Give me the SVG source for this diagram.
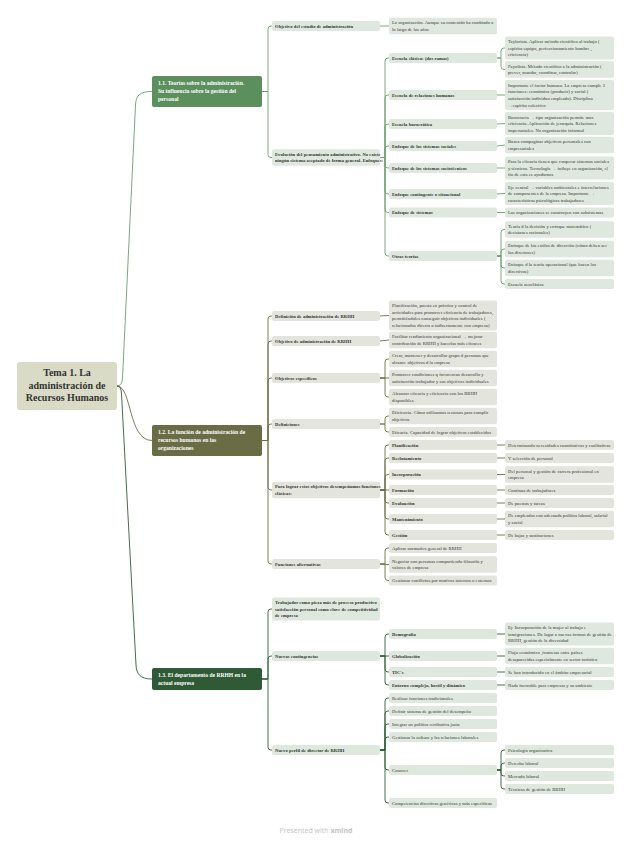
<svg xmlns="http://www.w3.org/2000/svg" width="632" height="848" viewBox="0 0 632 848">
<style>
.t{font-family:"Liberation Serif","DejaVu Serif",serif;font-size:4.6px;fill:#333;letter-spacing:0.06px}
.b{font-weight:bold}
.a rect{fill:#dfe8de}
.o rect{fill:#e3e4dc}
.c{fill:none;stroke-width:0.9}
.c1{stroke:#6b9e6d}.c2{stroke:#6e7048}.c3{stroke:#2f5e36}
.bt{font-family:"Liberation Serif","DejaVu Serif",serif;font-size:5.6px;font-weight:bold;fill:#fff}
</style>
<rect width="632" height="848" fill="#fff"/>
<g id="connectors">
<path class="c c1" d="M117,386 C120,386 122,384 122.5,378 L135.5,105 C136,95 140,91.5 152,91.5"/>
<path class="c c2" d="M117,386 C132,386 128,440.5 152,440.5"/>
<path class="c c3" d="M117,386 C120,386 121,388 121.5,394 L136,665 C136.5,674 140,679 152,679"/>
<g class="c c1">
<path d="M262,91.5 H268 V29 Q268,26 271,26 H272"/>
<path d="M262,91.5 H268 V154.5 Q268,157.5 271,157.5 H272"/>
<path d="M380,26 H389"/>
<path d="M380,157.5 H385 V61 Q385,58 388,58 H389"/>
<path d="M380,157.5 H385 V98 Q385,95 388,95 H389"/>
<path d="M380,157.5 H385 V127 Q385,124 388,124 H389"/>
<path d="M380,157.5 H385 V149 Q385,146 388,146 H389"/>
<path d="M380,157.5 H385 V165 Q385,168 388,168 H389"/>
<path d="M380,157.5 H385 V191 Q385,194 388,194 H389"/>
<path d="M380,157.5 H385 V209.5 Q385,212.5 388,212.5 H389"/>
<path d="M380,157.5 H385 V253 Q385,256 388,256 H389"/>
<path d="M497,58 H501 V51 Q501,48 504,48 H505"/>
<path d="M497,58 H501 V66.5 Q501,69.5 504,69.5 H505"/>
<path d="M497,95 H505"/>
<path d="M497,124 L505,123.5"/>
<path d="M497,146 L505,145"/>
<path d="M497,168 H505"/>
<path d="M497,194 L505,193.5"/>
<path d="M497,212.5 H505"/>
<path d="M497,256 H501 V232.5 Q501,229.5 504,229.5 H505"/>
<path d="M497,256 H501 V252 Q501,249 504,249 H505"/>
<path d="M497,256 H501 V265 Q501,268 504,268 H505"/>
<path d="M497,256 H501 V281 Q501,284 504,284 H505"/>
</g>
<g class="c c2">
<path d="M262,440.5 H268 V319 Q268,316 271,316 H272"/>
<path d="M262,440.5 H268 V344 Q268,341 271,341 H272"/>
<path d="M262,440.5 H268 V381 Q268,378 271,378 H272"/>
<path d="M262,440.5 H268 V427 Q268,424 271,424 H272"/>
<path d="M262,440.5 H268 V487 Q268,490 271,490 H272"/>
<path d="M262,440.5 H268 V561 Q268,564 271,564 H272"/>
<path d="M380,316 L389,315.5"/>
<path d="M380,341 L389,340"/>
<path d="M380,378 H385 V362 Q385,359 388,359 H389"/>
<path d="M380,378 H389"/>
<path d="M380,378 H385 V394 Q385,397 388,397 H389"/>
<path d="M380,424 H385 V419 Q385,416 388,416 H389"/>
<path d="M380,424 H385 V429 Q385,432 388,432 H389"/>
<path d="M380,490 H385 V448 Q385,445 388,445 H389"/>
<path d="M380,490 H385 V461 Q385,458 388,458 H389"/>
<path d="M380,490 H385 V477.5 Q385,474.5 388,474.5 H389"/>
<path d="M380,490 H389"/>
<path d="M380,490 H385 V500 Q385,503 388,503 H389"/>
<path d="M380,490 H385 V516 Q385,519 388,519 H389"/>
<path d="M380,490 H385 V532 Q385,535 388,535 H389"/>
<path d="M380,564 H385 V551 Q385,548 388,548 H389"/>
<path d="M380,564 L389,564.5"/>
<path d="M380,564 H385 V577.5 Q385,580.5 388,580.5 H389"/>
<path d="M497,445 H505"/><path d="M497,458 H505"/><path d="M497,474.5 H505"/><path d="M497,490 H505"/><path d="M497,503 H505"/><path d="M497,519 H505"/><path d="M497,535 H505"/>
</g>
<g class="c c3">
<path d="M262,679 H268 V612 Q268,609 271,609 H272"/>
<path d="M262,679 H268 V659 Q268,656 271,656 H272"/>
<path d="M262,679 H268 V747 Q268,750 271,750 H272"/>
<path d="M380,656 H385 V637 Q385,634 388,634 H389"/>
<path d="M380,656 H389"/>
<path d="M380,656 H385 V669 Q385,672 388,672 H389"/>
<path d="M380,656 H385 V682 Q385,685 388,685 H389"/>
<path d="M497,634 H505"/><path d="M497,656 H505"/><path d="M497,672 H505"/><path d="M497,685 H505"/>
<path d="M380,750 H385 V701 Q385,698 388,698 H389"/>
<path d="M380,750 H385 V714 Q385,711 388,711 H389"/>
<path d="M380,750 H385 V727 Q385,724 388,724 H389"/>
<path d="M380,750 H385 V740 Q385,737 388,737 H389"/>
<path d="M380,750 H385 V767 Q385,770 388,770 H389"/>
<path d="M380,750 H385 V800 Q385,803 388,803 H389"/>
<path d="M497,770 H501 V753 Q501,750 504,750 H505"/>
<path d="M497,770 H501 V766 Q501,763 504,763 H505"/>
<path d="M497,770 H501 V773 Q501,776 504,776 H505"/>
<path d="M497,770 H501 V786 Q501,789 504,789 H505"/>
</g>
</g>

<g id="root"><rect x="17" y="362" width="100" height="48" rx="3" fill="#d9dbc6"/>
<text class="t b" style="font-size:10px;letter-spacing:0" text-anchor="middle" x="67" y="376"><tspan x="67">Tema 1. La</tspan><tspan x="67" dy="12.5">administración de</tspan><tspan x="67" dy="12.5">Recursos Humanos</tspan></text></g>

<g id="b1"><rect x="152" y="76" width="110" height="31" rx="2" fill="#5b8f5e"/>
<text class="bt" x="158" y="84.5"><tspan x="158">1.1. Teorías sobre la administración.</tspan><tspan x="158" dy="8.3">Su influencia sobre la gestión del</tspan><tspan x="158" dy="8.3">personal</tspan></text></g>
<g id="b2"><rect x="152" y="425" width="110" height="31" rx="2" fill="#6a6c45"/>
<text class="bt" x="158" y="433.5"><tspan x="158">1.2. La función de administración de</tspan><tspan x="158" dy="8.3">recursos humanos en las</tspan><tspan x="158" dy="8.3">organizaciones</tspan></text></g>
<g id="b3"><rect x="152" y="668" width="110" height="22" rx="2" fill="#2f5a35"/>
<text class="bt" x="158" y="677"><tspan x="158">1.3. El departamento de RRHH en la</tspan><tspan x="158" dy="8.3">actual empresa</tspan></text></g>

<g class="a">
<g id="n_obj"><rect x="272" y="21" width="108" height="10" rx="2"/><text class="t b" x="275" y="27.6">Objetivo del estudio de administración</text></g>
<g id="n_obj1"><rect x="389" y="17.7" width="108" height="16.6" rx="2"/><text class="t" x="392" y="24.3"><tspan x="392">La organización. Aunque su contenido ha cambiado a</tspan><tspan x="392" dy="6.6">lo largo de los años</tspan></text></g>
<g id="n_evo"><rect x="272" y="149.2" width="108" height="16.6" rx="2"/><text class="t b" x="275" y="155.8"><tspan x="275">Evolución del pensamiento administrativo. No existe</tspan><tspan x="275" dy="6.6">ningún sistema aceptado de forma general. Enfoques:</tspan></text></g>
<g id="n_cla"><rect x="389" y="53" width="108" height="10" rx="2"/><text class="t b" x="392" y="59.6">Escuela clásica: (dos ramas)</text></g>
<g id="n_rel"><rect x="389" y="90" width="108" height="10" rx="2"/><text class="t b" x="392" y="96.6">Escuela de relaciones humanas</text></g>
<g id="n_bur"><rect x="389" y="119" width="108" height="10" rx="2"/><text class="t b" x="392" y="125.6">Escuela burocrática</text></g>
<g id="n_soc"><rect x="389" y="141" width="108" height="10" rx="2"/><text class="t b" x="392" y="147.6">Enfoque de los sistemas sociales</text></g>
<g id="n_st"><rect x="389" y="163" width="108" height="10" rx="2"/><text class="t b" x="392" y="169.6">Enfoque de los sistemas sociotécnicos</text></g>
<g id="n_con"><rect x="389" y="189" width="108" height="10" rx="2"/><text class="t b" x="392" y="195.6">Enfoque contingente o situacional</text></g>
<g id="n_sis"><rect x="389" y="207.5" width="108" height="10" rx="2"/><text class="t b" x="392" y="214.1">Enfoque de sistemas</text></g>
<g id="n_otr"><rect x="389" y="251" width="108" height="10" rx="2"/><text class="t b" x="392" y="257.6">Otras teorías</text></g>
<g id="n_tay"><rect x="505" y="36.4" width="109" height="23.2" rx="2"/><text class="t" x="508" y="43"><tspan x="508">Taylorista. Aplicar método científico al trabajo (</tspan><tspan x="508" dy="6.6">espíritu equipo, perfeccionamiento hombre ,</tspan><tspan x="508" dy="6.6">eficiencia)</tspan></text></g>
<g id="n_fay"><rect x="505" y="61.2" width="109" height="16.6" rx="2"/><text class="t" x="508" y="67.8"><tspan x="508">Fayolista. Método científico a la administración (</tspan><tspan x="508" dy="6.6">prever, mandar, coordinar, controlar)</tspan></text></g>
<g id="n_imp"><rect x="505" y="80.1" width="109" height="29.8" rx="2"/><text class="t" x="508" y="86.7"><tspan x="508">Importante el factor humano. La empresa cumple 2</tspan><tspan x="508" dy="6.6">funciones: económica (producir) y social (</tspan><tspan x="508" dy="6.6">satisfacción individuo empleado). Disciplina</tspan><tspan x="508" dy="6.6">→espíritu colectivo</tspan></text></g>
<g id="n_bur1"><rect x="505" y="111.9" width="109" height="23.2" rx="2"/><text class="t" x="508" y="118.5"><tspan x="508">Burocracia → tipo organización permite max</tspan><tspan x="508" dy="6.6">eficiencia. Aplicación de jerarquía. Relaciones</tspan><tspan x="508" dy="6.6">impersonales. No organización informal</tspan></text></g>
<g id="n_soc1"><rect x="505" y="136.7" width="109" height="16.6" rx="2"/><text class="t" x="508" y="143.3"><tspan x="508">Busca compaginar objetivos personales con</tspan><tspan x="508" dy="6.6">empresariales</tspan></text></g>
<g id="n_st1"><rect x="505" y="156.4" width="109" height="23.2" rx="2"/><text class="t" x="508" y="163"><tspan x="508">Para la eficacia tienen que cooperar sistemas sociales</tspan><tspan x="508" dy="6.6">y técnicos. Tecnología → influye en organización, el</tspan><tspan x="508" dy="6.6">fin de esta es ayudarnos</tspan></text></g>
<g id="n_con1"><rect x="505" y="181.9" width="109" height="23.2" rx="2"/><text class="t" x="508" y="188.5"><tspan x="508">Eje central → variables ambientales e interrelaciones</tspan><tspan x="508" dy="6.6">de componentes de la empresa. Importante →</tspan><tspan x="508" dy="6.6">características psicológicas trabajadores</tspan></text></g>
<g id="n_sis1"><rect x="505" y="207.5" width="109" height="10" rx="2"/><text class="t" x="508" y="214.1">Las organizaciones se construyen con subsistemas</text></g>
<g id="n_o1"><rect x="505" y="221.2" width="109" height="16.6" rx="2"/><text class="t" x="508" y="227.8"><tspan x="508">Teoría d la decisión y enfoque matemático (</tspan><tspan x="508" dy="6.6">decisiones racionales)</tspan></text></g>
<g id="n_o2"><rect x="505" y="240.7" width="109" height="16.6" rx="2"/><text class="t" x="508" y="247.3"><tspan x="508">Enfoque de los estilos de dirección (cómo deben ser</tspan><tspan x="508" dy="6.6">los directores)</tspan></text></g>
<g id="n_o3"><rect x="505" y="259.7" width="109" height="16.6" rx="2"/><text class="t" x="508" y="266.3"><tspan x="508">Enfoque d la teoría operacional (que hacen los</tspan><tspan x="508" dy="6.6">directivos)</tspan></text></g>
<g id="n_o4"><rect x="505" y="279" width="109" height="10" rx="2"/><text class="t" x="508" y="285.6">Escuela neoclásica</text></g>
</g>

<g class="o">
<g id="m_def"><rect x="272" y="311" width="108" height="10" rx="2"/><text class="t b" x="275" y="317.6">Definición de administración de RRHH</text></g>
<g id="m_obj"><rect x="272" y="336" width="108" height="10" rx="2"/><text class="t b" x="275" y="342.6">Objetivo de administración de RRHH</text></g>
<g id="m_esp"><rect x="272" y="373" width="108" height="10" rx="2"/><text class="t b" x="275" y="379.6">Objetivos específicos</text></g>
<g id="m_dfs"><rect x="272" y="419" width="108" height="10" rx="2"/><text class="t b" x="275" y="425.6">Definiciones</text></g>
<g id="m_par"><rect x="272" y="481.7" width="108" height="16.6" rx="2"/><text class="t b" x="275" y="488.3"><tspan x="275">Para lograr estos objetivos desempeñamos funciones</tspan><tspan x="275" dy="6.6">clásicas:</tspan></text></g>
<g id="m_alt"><rect x="272" y="559" width="108" height="10" rx="2"/><text class="t b" x="275" y="565.6">Funciones alternativas</text></g>
<g id="m_def1"><rect x="389" y="300.6" width="108" height="29.8" rx="2"/><text class="t" x="392" y="307.2"><tspan x="392">Planificación, puesta en práctica y control de</tspan><tspan x="392" dy="6.6">actividades para promover eficiencia de trabajadores,</tspan><tspan x="392" dy="6.6">permitiéndoles conseguir objetivos individuales (</tspan><tspan x="392" dy="6.6">relacionados directa o indirectamente con empresa)</tspan></text></g>
<g id="m_obj1"><rect x="389" y="331.7" width="108" height="16.6" rx="2"/><text class="t" x="392" y="338.3"><tspan x="392">Facilitar rendimiento organizacional → mejorar</tspan><tspan x="392" dy="6.6">contribución de RRHH y hacerlas más eficaces</tspan></text></g>
<g id="m_e1"><rect x="389" y="350.7" width="108" height="16.6" rx="2"/><text class="t" x="392" y="357.3"><tspan x="392">Crear, mantener y desarrollar grupo d personas que</tspan><tspan x="392" dy="6.6">alcance objetivos d la empresa</tspan></text></g>
<g id="m_e2"><rect x="389" y="369.7" width="108" height="16.6" rx="2"/><text class="t" x="392" y="376.3"><tspan x="392">Promover condiciones q favorezcan desarrollo y</tspan><tspan x="392" dy="6.6">satisfacción trabajador y sus objetivos individuales</tspan></text></g>
<g id="m_e3"><rect x="389" y="388.7" width="108" height="16.6" rx="2"/><text class="t" x="392" y="395.3"><tspan x="392">Alcanzar eficacia y eficiencia con los RRHH</tspan><tspan x="392" dy="6.6">disponibles</tspan></text></g>
<g id="m_d1"><rect x="389" y="407.7" width="108" height="16.6" rx="2"/><text class="t" x="392" y="414.3"><tspan x="392">Eficiencia. Cómo utilizamos recursos para cumplir</tspan><tspan x="392" dy="6.6">objetivos</tspan></text></g>
<g id="m_d2"><rect x="389" y="427" width="108" height="10" rx="2"/><text class="t" x="392" y="433.6">Eficacia. Capacidad de lograr objetivos establecidos</text></g>
<g id="m_f1"><rect x="389" y="440" width="108" height="10" rx="2"/><text class="t b" x="392" y="446.6">Planificación</text></g>
<g id="m_f2"><rect x="389" y="453" width="108" height="10" rx="2"/><text class="t b" x="392" y="459.6">Reclutamiento</text></g>
<g id="m_f3"><rect x="389" y="469.5" width="108" height="10" rx="2"/><text class="t b" x="392" y="476.1">Incorporación</text></g>
<g id="m_f4"><rect x="389" y="485" width="108" height="10" rx="2"/><text class="t b" x="392" y="491.6">Formación</text></g>
<g id="m_f5"><rect x="389" y="498" width="108" height="10" rx="2"/><text class="t b" x="392" y="504.6">Evaluación</text></g>
<g id="m_f6"><rect x="389" y="514" width="108" height="10" rx="2"/><text class="t b" x="392" y="520.6">Mantenimiento</text></g>
<g id="m_f7"><rect x="389" y="530" width="108" height="10" rx="2"/><text class="t b" x="392" y="536.6">Gestión</text></g>
<g id="m_g1"><rect x="505" y="440" width="109" height="10" rx="2"/><text class="t" x="508" y="446.6">Determinando necesidades cuantitativas y cualitativas</text></g>
<g id="m_g2"><rect x="505" y="453" width="109" height="10" rx="2"/><text class="t" x="508" y="459.6">Y selección de personal</text></g>
<g id="m_g3"><rect x="505" y="466.2" width="109" height="16.6" rx="2"/><text class="t" x="508" y="472.8"><tspan x="508">Del personal y gestión de carrera profesional en</tspan><tspan x="508" dy="6.6">empresa</tspan></text></g>
<g id="m_g4"><rect x="505" y="485" width="109" height="10" rx="2"/><text class="t" x="508" y="491.6">Continua de trabajadores</text></g>
<g id="m_g5"><rect x="505" y="498" width="109" height="10" rx="2"/><text class="t" x="508" y="504.6">De puestos y tareas</text></g>
<g id="m_g6"><rect x="505" y="510.7" width="109" height="16.6" rx="2"/><text class="t" x="508" y="517.3"><tspan x="508">De empleados con adecuada política laboral, salarial</tspan><tspan x="508" dy="6.6">y social</tspan></text></g>
<g id="m_g7"><rect x="505" y="530" width="109" height="10" rx="2"/><text class="t" x="508" y="536.6">De bajas y sustituciones</text></g>
<g id="m_a1"><rect x="389" y="543" width="108" height="10" rx="2"/><text class="t" x="392" y="549.6">Aplicar normativa general de RRHH</text></g>
<g id="m_a2"><rect x="389" y="556.2" width="108" height="16.6" rx="2"/><text class="t" x="392" y="562.8"><tspan x="392">Negociar con personas compartiendo filosofía y</tspan><tspan x="392" dy="6.6">valores de empresa</tspan></text></g>
<g id="m_a3"><rect x="389" y="575.5" width="108" height="10" rx="2"/><text class="t" x="392" y="582.1">Gestionar conflictos por motivos internos o externos</text></g>
</g>

<g class="a">
<g id="p_tra"><rect x="272" y="597.4" width="108" height="23.2" rx="2"/><text class="t b" x="275" y="604"><tspan x="275">Trabajador como pieza más de proceso productivo →</tspan><tspan x="275" dy="6.6">satisfacción personal como clave de competitividad</tspan><tspan x="275" dy="6.6">de empresa</tspan></text></g>
<g id="p_nue"><rect x="272" y="651" width="108" height="10" rx="2"/><text class="t b" x="275" y="657.6">Nuevas contingencias</text></g>
<g id="p_per"><rect x="272" y="745" width="108" height="10" rx="2"/><text class="t b" x="275" y="751.6">Nuevo perfil de director de RRHH</text></g>
<g id="p_dem"><rect x="389" y="629" width="108" height="10" rx="2"/><text class="t b" x="392" y="635.6">Demografía</text></g>
<g id="p_glo"><rect x="389" y="651" width="108" height="10" rx="2"/><text class="t b" x="392" y="657.6">Globalización</text></g>
<g id="p_tic"><rect x="389" y="667" width="108" height="10" rx="2"/><text class="t b" x="392" y="673.6">TIC's</text></g>
<g id="p_ent"><rect x="389" y="680" width="108" height="10" rx="2"/><text class="t b" x="392" y="686.6">Entorno complejo, hostil y dinámico</text></g>
<g id="p_dem1"><rect x="505" y="622.4" width="109" height="23.2" rx="2"/><text class="t" x="508" y="629"><tspan x="508">Ej: Incorporación de la mujer al trabajo e</tspan><tspan x="508" dy="6.6">inmigraciones. Da lugar a nuevas formas de gestión de</tspan><tspan x="508" dy="6.6">RRHH, gestión de la diversidad</tspan></text></g>
<g id="p_glo1"><rect x="505" y="647.7" width="109" height="16.6" rx="2"/><text class="t" x="508" y="654.3"><tspan x="508">Flujo económico ,fronteras entre países</tspan><tspan x="508" dy="6.6">desaparecidas especialmente en sector turístico</tspan></text></g>
<g id="p_tic1"><rect x="505" y="667" width="109" height="10" rx="2"/><text class="t" x="508" y="673.6">Se han introducido en el ámbito empresarial</text></g>
<g id="p_ent1"><rect x="505" y="680" width="109" height="10" rx="2"/><text class="t" x="508" y="686.6">Nada favorable para empresas y su ambiente</text></g>
<g id="p_r1"><rect x="389" y="693" width="108" height="10" rx="2"/><text class="t" x="392" y="699.6">Realizar funciones tradicionales</text></g>
<g id="p_r2"><rect x="389" y="706" width="108" height="10" rx="2"/><text class="t" x="392" y="712.6">Definir sistema de gestión del desempeño</text></g>
<g id="p_r3"><rect x="389" y="719" width="108" height="10" rx="2"/><text class="t" x="392" y="725.6">Integrar un política retributiva justa</text></g>
<g id="p_r4"><rect x="389" y="732" width="108" height="10" rx="2"/><text class="t" x="392" y="738.6">Gestionar la cultura y las relaciones laborales</text></g>
<g id="p_r5"><rect x="389" y="765" width="108" height="10" rx="2"/><text class="t" x="392" y="771.6">Conocer</text></g>
<g id="p_r6"><rect x="389" y="798" width="108" height="10" rx="2"/><text class="t" x="392" y="804.6">Competencias directivas genéricas y más específicas</text></g>
<g id="p_k1"><rect x="505" y="745" width="109" height="10" rx="2"/><text class="t" x="508" y="751.6">Psicología organizativa</text></g>
<g id="p_k2"><rect x="505" y="758" width="109" height="10" rx="2"/><text class="t" x="508" y="764.6">Derecho laboral</text></g>
<g id="p_k3"><rect x="505" y="771" width="109" height="10" rx="2"/><text class="t" x="508" y="777.6">Mercado laboral</text></g>
<g id="p_k4"><rect x="505" y="784" width="109" height="10" rx="2"/><text class="t" x="508" y="790.6">Técnicas de gestión de RRHH</text></g>
</g>

<text x="316" y="832.5" text-anchor="middle" style="font-family:'Open Sans','Liberation Sans',sans-serif;font-size:7px;fill:#c4c4c4">Presented with <tspan font-weight="bold">xmind</tspan></text>
</svg>
